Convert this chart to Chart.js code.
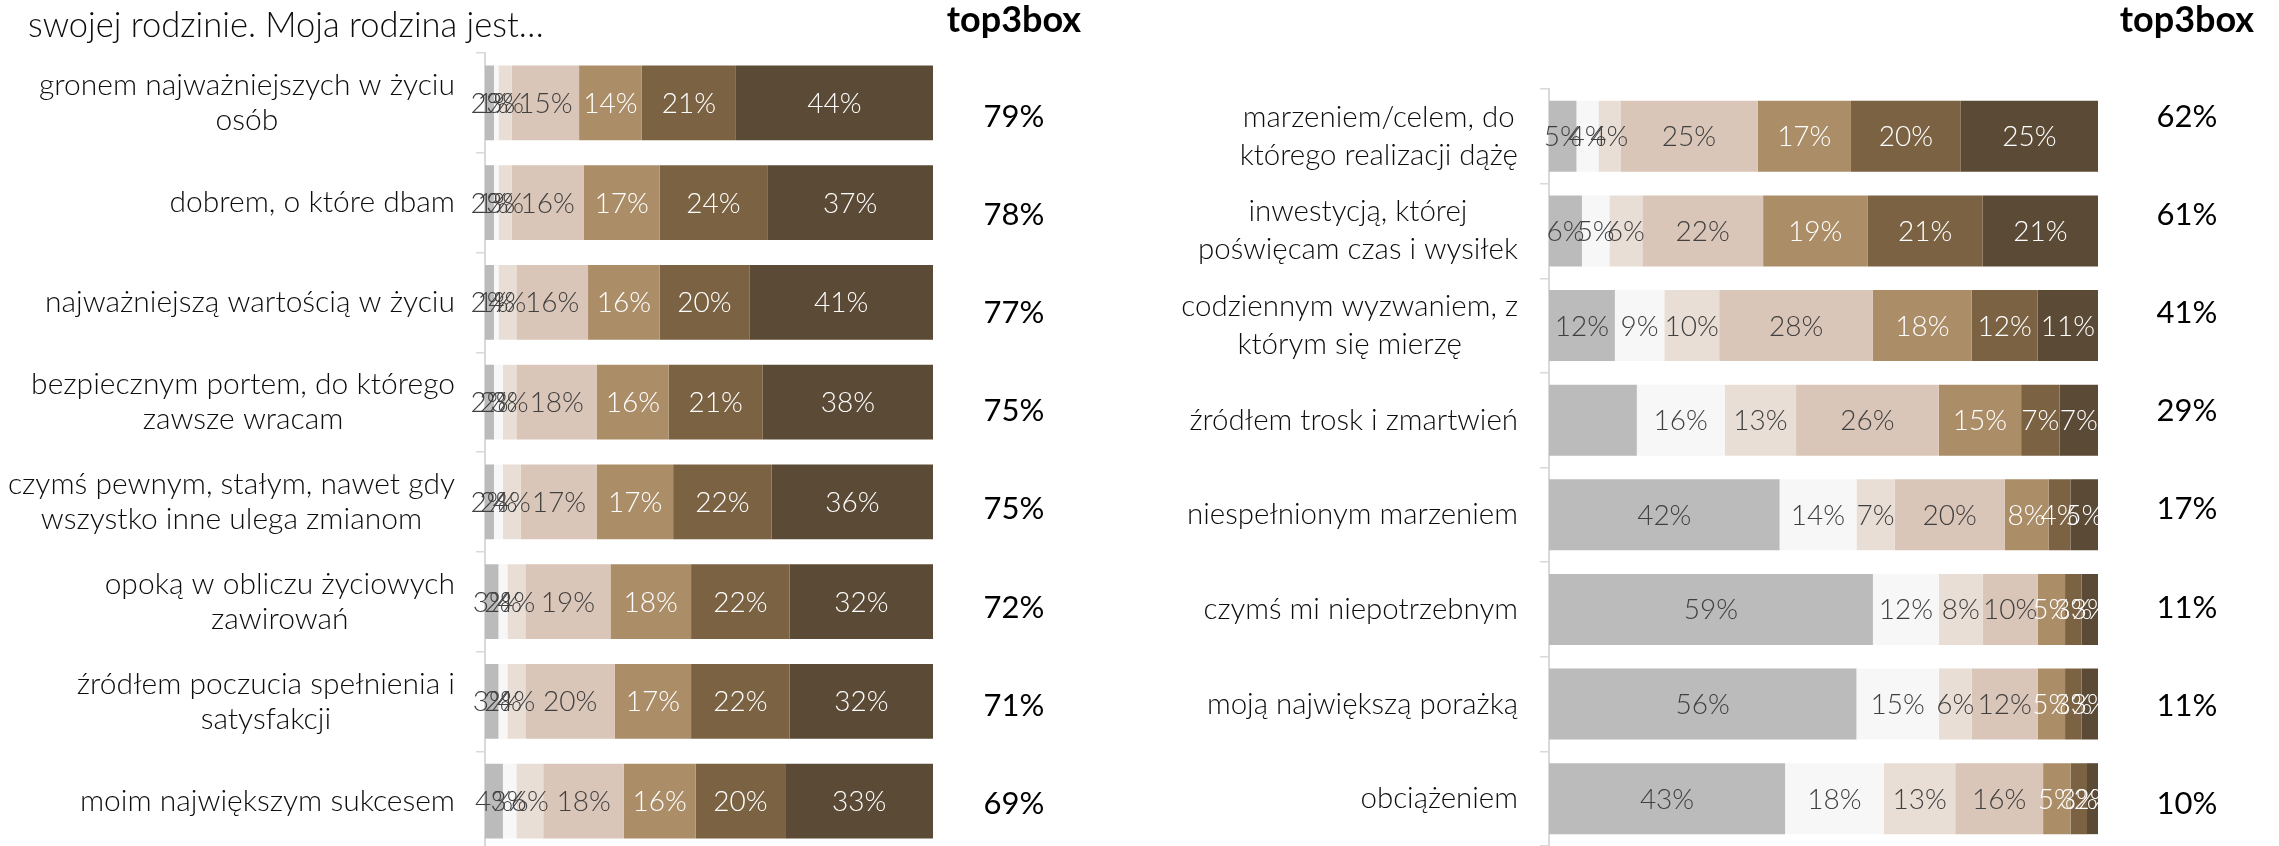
<!DOCTYPE html>
<html>
<head>
<meta charset="utf-8">
<script src="https://cdn.jsdelivr.net/npm/chart.js@4.4.1/dist/chart.umd.min.js"></script>
<style>
  html, body { margin: 0; padding: 0; background: #ffffff; width: 2279px; height: 846px; overflow: hidden; }
  #stage { position: relative; width: 2279px; height: 846px; overflow: hidden; }
  #leftWrap { position: absolute; left: 0; top: 0; width: 1140px; height: 852px; }
  #rightWrap { position: absolute; left: 1140px; top: 0; width: 1139px; height: 846px; }
  canvas { display: block; }
</style>
</head>
<body>
<div id="stage">
  <div id="leftWrap"><canvas id="leftChart" width="1140" height="852"></canvas></div>
  <div id="rightWrap"><canvas id="rightChart" width="1139" height="846"></canvas></div>
</div>
<script>
// Answer scale levels 1..7 (1 = lowest agreement, 7 = highest)
const scaleLevels = ['1', '2', '3', '4', '5', '6', '7'];

// Left panel: categories (one entry per line of the wrapped label)
const leftCategories = [
  ['gronem najważniejszych w życiu', 'osób'],
  ['dobrem, o które dbam'],
  ['najważniejszą wartością w życiu'],
  ['bezpiecznym portem, do którego', 'zawsze wracam'],
  ['czymś pewnym, stałym, nawet gdy', 'wszystko inne ulega zmianom'],
  ['opoką w obliczu życiowych', 'zawirowań'],
  ['źródłem poczucia spełnienia i', 'satysfakcji'],
  ['moim największym sukcesem']
];
// Left panel: share of answers (%) per scale level
const leftLevel1 = [2, 2, 2, 2, 2, 3, 3, 4];
const leftLevel2 = [1, 1, 1, 2, 2, 2, 2, 3];
const leftLevel3 = [3, 3, 4, 3, 4, 4, 4, 6];
const leftLevel4 = [15, 16, 16, 18, 17, 19, 20, 18];
const leftLevel5 = [14, 17, 16, 16, 17, 18, 17, 16];
const leftLevel6 = [21, 24, 20, 21, 22, 22, 22, 20];
const leftLevel7 = [44, 37, 41, 38, 36, 32, 32, 33];
const leftTop3 = [79, 78, 77, 75, 75, 72, 71, 69];

// Right panel
const rightCategories = [
  ['marzeniem/celem, do', 'którego realizacji dążę'],
  ['inwestycją, której', 'poświęcam czas i wysiłek'],
  ['codziennym wyzwaniem, z', 'którym się mierzę'],
  ['źródłem trosk i zmartwień'],
  ['niespełnionym marzeniem'],
  ['czymś mi niepotrzebnym'],
  ['moją największą porażką'],
  ['obciążeniem']
];
const rightLevel1 = [5, 6, 12, 16, 42, 59, 56, 43];
const rightLevel2 = [4, 5, 9, 16, 14, 12, 15, 18];
const rightLevel3 = [4, 6, 10, 13, 7, 8, 6, 13];
const rightLevel4 = [25, 22, 28, 26, 20, 10, 12, 16];
const rightLevel5 = [17, 19, 18, 15, 8, 5, 5, 5];
const rightLevel6 = [20, 21, 12, 7, 4, 3, 3, 3];
const rightLevel7 = [25, 21, 11, 7, 5, 3, 3, 2];
const rightTop3 = [62, 61, 41, 29, 17, 11, 11, 10];
// segments whose value label is not shown: [level index, row index]
const rightUnlabeled = [[0, 3]];

const pageTitle = 'swojej rodzinie. Moja rodzina jest…';
const top3Header = 'top3box';

// ---- styling ----
const levelColors = ['#BBBBBB', '#F7F7F7', '#E9DED6', '#DAC6B8', '#AB8E68', '#7A6243', '#5B4A35'];
const levelLabelColors = ['#404040', '#404040', '#404040', '#404040', '#FFFFFF', '#FFFFFF', '#FFFFFF'];
const FONT = 'Lato, "Open Sans", "DejaVu Sans", sans-serif';

function buildDatasets(levels) {
  return levels.map((vals, i) => ({
    label: scaleLevels[i],
    data: vals,
    backgroundColor: levelColors[i],
    borderWidth: 0,
    barPercentage: 0.75,
    categoryPercentage: 1.0
  }));
}

// Draws value labels centred on each stacked segment
const segmentLabels = {
  id: 'segmentLabels',
  afterDatasetsDraw(chart, args, opts) {
    const ctx = chart.ctx;
    ctx.save();
    ctx.font = opts.font;
    ctx.textAlign = 'center';
    ctx.textBaseline = 'middle';
    const skip = opts.skip || [];
    chart.data.datasets.forEach((ds, di) => {
      const meta = chart.getDatasetMeta(di);
      meta.data.forEach((bar, i) => {
        if (skip.some(s => s[0] === di && s[1] === i)) return;
        const v = ds.data[i];
        ctx.fillStyle = levelLabelColors[di];
        ctx.fillText(v + '%', (bar.x + bar.base) / 2, bar.y + 1);
      });
    });
    ctx.restore();
  }
};

// Category labels: each wrapped block is right-aligned to the axis, lines centred within it
const categoryLabels = {
  id: 'categoryLabels',
  afterDraw(chart, args, opts) {
    const ctx = chart.ctx;
    const yScale = chart.scales.y;
    ctx.save();
    ctx.font = opts.font;
    ctx.fillStyle = '#0D0D0D';
    ctx.textAlign = 'center';
    ctx.textBaseline = 'middle';
    opts.lines.forEach((lines, i) => {
      const yc = yScale.getPixelForValue(i);
      const widest = Math.max(...lines.map(l => ctx.measureText(l).width));
      const xc = opts.right - widest / 2;
      lines.forEach((line, k) => {
        ctx.fillText(line, xc, yc + (k - (lines.length - 1) / 2) * opts.lineHeight);
      });
    });
    ctx.restore();
  }
};

// top3box column with its header, plus optional page title
const sideTexts = {
  id: 'sideTexts',
  afterDraw(chart, args, opts) {
    const ctx = chart.ctx;
    ctx.save();
    ctx.fillStyle = '#000000';
    ctx.textAlign = 'center';
    ctx.textBaseline = 'alphabetic';
    ctx.font = '700 36px ' + FONT;
    ctx.fillText(top3Header, opts.columnX, opts.headerBaseline);
    ctx.font = '400 31px ' + FONT;
    ctx.textBaseline = 'middle';
    opts.values.forEach((v, i) => {
      ctx.fillText(v + '%', opts.columnX, opts.firstY + i * opts.step);
    });
    if (opts.title) {
      ctx.textAlign = 'left';
      ctx.textBaseline = 'alphabetic';
      ctx.font = '300 34.5px ' + FONT;
      ctx.fillStyle = '#0D0D0D';
      ctx.fillText(opts.title, opts.titleX, opts.titleBaseline);
    }
    ctx.restore();
  }
};

function makePanel(canvasId, categories, levels, cfg) {
  return new Chart(document.getElementById(canvasId), {
    type: 'bar',
    data: {
      labels: categories.map(c => c.join(' ')),
      datasets: buildDatasets(levels)
    },
    options: {
      indexAxis: 'y',
      responsive: false,
      animation: false,
      events: [],
      layout: { padding: { left: 0, top: cfg.top, right: cfg.right, bottom: cfg.bottom } },
      scales: {
        x: { stacked: true, min: 0, max: 100, display: false },
        y: {
          stacked: true,
          offset: true,
          afterFit(scale) { scale.width = cfg.axisX; },
          ticks: { display: false },
          grid: { drawOnChartArea: false, drawTicks: true, tickLength: 9, color: '#D9D9D9', lineWidth: 1.5, offset: true },
          border: { display: true, color: '#D9D9D9', width: 2 }
        }
      },
      plugins: {
        legend: { display: false },
        tooltip: { enabled: false },
        segmentLabels: { font: '300 28px ' + FONT, skip: cfg.skip },
        categoryLabels: { font: '300 ' + cfg.catSize + 'px ' + FONT, lines: categories, right: cfg.labelRight, lineHeight: cfg.lineHeight },
        sideTexts: {
          columnX: cfg.columnX, headerBaseline: 32, values: cfg.top3,
          firstY: 117, step: 98.1,
          title: cfg.title, titleX: 28, titleBaseline: 37
        }
      }
    },
    plugins: [segmentLabels, categoryLabels, sideTexts]
  });
}

makePanel('leftChart', leftCategories,
  [leftLevel1, leftLevel2, leftLevel3, leftLevel4, leftLevel5, leftLevel6, leftLevel7],
  { axisX: 485, top: 53, right: 207, bottom: 1, labelRight: 455, catSize: 30, lineHeight: 35,
    columnX: 1014, top3: leftTop3, title: pageTitle, skip: [] });

makePanel('rightChart', rightCategories,
  [rightLevel1, rightLevel2, rightLevel3, rightLevel4, rightLevel5, rightLevel6, rightLevel7],
  { axisX: 409, top: 89, right: 181, bottom: 0, labelRight: 378, catSize: 29.5, lineHeight: 38,
    columnX: 1047, top3: rightTop3, title: null, skip: rightUnlabeled });
</script>
</body>
</html>
